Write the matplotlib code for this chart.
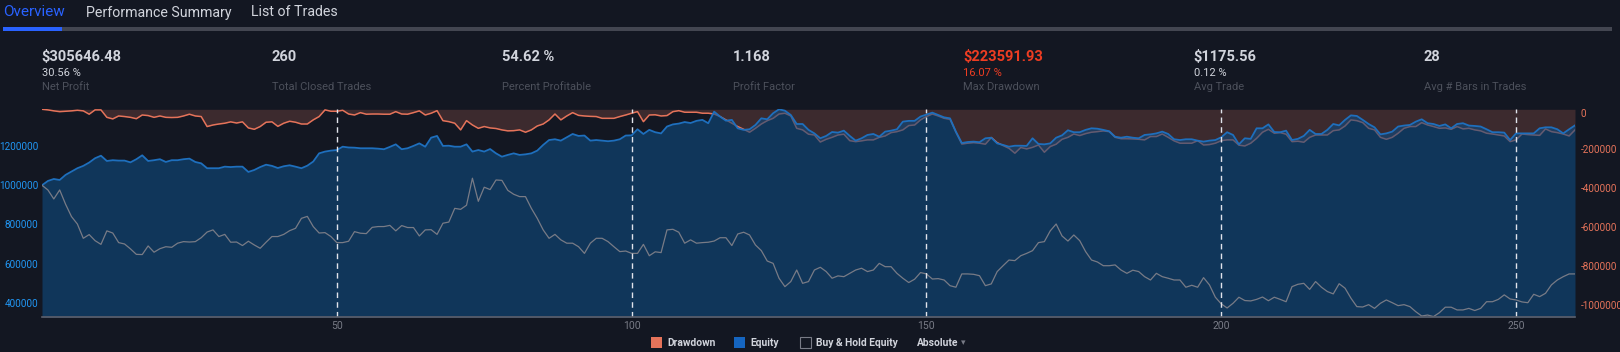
import numpy as np
import matplotlib
matplotlib.use("Agg")
import matplotlib.pyplot as plt
from matplotlib.patches import Rectangle

# one value per closed trade, in thousands of dollars
equity_k = [
    1000, 1022, 1032, 1027, 1053, 1070, 1087, 1099, 1116, 1138, 1151, 1124, 1128, 1126, 1126, 1117,
    1133, 1153, 1124, 1128, 1133, 1119, 1128, 1128, 1133, 1136, 1119, 1112, 1087, 1087, 1087, 1095,
    1093, 1095, 1095, 1068, 1078, 1093, 1105, 1099, 1088, 1097, 1102, 1095, 1087, 1100, 1121, 1163,
    1172, 1177, 1180, 1197, 1193, 1192, 1189, 1189, 1189, 1187, 1184, 1196, 1209, 1184, 1189, 1201,
    1214, 1197, 1243, 1252, 1201, 1202, 1197, 1197, 1209, 1172, 1180, 1172, 1185, 1163, 1146, 1155,
    1163, 1155, 1158, 1163, 1177, 1206, 1231, 1235, 1228, 1245, 1262, 1252, 1254, 1228, 1231, 1228,
    1225, 1228, 1235, 1254, 1255, 1286, 1262, 1283, 1271, 1265, 1300, 1311, 1315, 1323, 1318, 1329,
    1334, 1317, 1376, 1351, 1330, 1334, 1291, 1283, 1286, 1308, 1342, 1337, 1368, 1388, 1381, 1359,
    1313, 1313, 1283, 1265, 1240, 1252, 1272, 1269, 1279, 1252, 1228, 1240, 1257, 1262, 1248, 1274,
    1279, 1286, 1325, 1329, 1329, 1351, 1361, 1371, 1359, 1347, 1342, 1274, 1216, 1221, 1223, 1220,
    1240, 1243, 1214, 1206, 1197, 1202, 1202, 1201, 1240, 1211, 1209, 1214, 1243, 1255, 1281, 1271,
    1271, 1283, 1291, 1289, 1283, 1276, 1248, 1243, 1248, 1243, 1240, 1257, 1260, 1265, 1274, 1262,
    1235, 1231, 1235, 1235, 1228, 1223, 1228, 1231, 1245, 1271, 1257, 1209, 1240, 1237, 1291, 1291,
    1311, 1272, 1271, 1279, 1231, 1237, 1252, 1283, 1262, 1262, 1283, 1313, 1306, 1334, 1357, 1354,
    1334, 1313, 1296, 1260, 1265, 1274, 1300, 1305, 1308, 1325, 1337, 1317, 1313, 1303, 1311, 1291,
    1313, 1317, 1305, 1303, 1300, 1286, 1271, 1271, 1269, 1231, 1265, 1265, 1265, 1265, 1291, 1296,
    1296, 1286, 1265, 1286, 1306,
]
drawdown_k = [
    0, -3, -8, -12, -10, -8, -5, -8, -25, -3, -3, -41, -49, -34, -37, -41,
    -48, -29, -32, -41, -34, -41, -42, -41, -34, -25, -34, -37, -88, -80, -75, -71,
    -64, -70, -64, -95, -102, -88, -66, -64, -87, -71, -61, -66, -75, -75, -54, -37,
    -3, -10, -10, -5, -24, -29, -17, -25, -24, -24, -25, -25, -12, -24, -25, -17,
    -8, -29, -20, -7, -58, -63, -71, -105, -58, -80, -97, -88, -95, -98, -105, -110,
    -109, -105, -117, -105, -85, -75, -54, -24, -54, -34, -17, -31, -34, -36, -37, -46,
    -46, -46, -37, -29, -20, -12, -63, -29, -28, -34, -32, -12, -7, -15, -15, -15,
    -20, -20, -24, -37, -54, -71, -88, -102, -117, -97, -75, -58, -46, -24, -20, -34,
    -97, -105, -127, -131, -167, -153, -143, -131, -127, -160, -165, -161, -156, -156, -143, -136,
    -119, -114, -105, -83, -80, -54, -37, -24, -34, -46, -51, -117, -177, -173, -170, -173,
    -178, -144, -170, -185, -199, -224, -195, -202, -194, -182, -219, -190, -178, -153, -143, -126,
    -134, -124, -117, -114, -110, -114, -143, -150, -150, -151, -153, -156, -139, -139, -126, -143,
    -161, -173, -173, -173, -160, -182, -180, -173, -160, -156, -156, -183, -187, -173, -148, -117,
    -102, -122, -119, -127, -165, -163, -168, -143, -131, -131, -131, -109, -105, -85, -54, -58,
    -68, -97, -105, -143, -153, -143, -122, -97, -88, -88, -68, -80, -88, -97, -95, -102,
    -88, -100, -97, -105, -110, -122, -126, -131, -136, -165, -156, -126, -129, -131, -133, -100,
    -114, -119, -126, -136, -105,
]
buyhold_k = [
    1000, 976, 930, 976, 903, 840, 802, 729, 748, 717, 698, 767, 756, 707, 700, 675,
    647, 646, 690, 658, 676, 686, 683, 704, 712, 710, 712, 732, 761, 772, 738, 749,
    709, 710, 692, 714, 695, 678, 709, 738, 738, 749, 768, 780, 831, 841, 789, 756,
    758, 738, 707, 707, 714, 763, 755, 753, 785, 789, 789, 795, 767, 794, 784, 784,
    741, 772, 773, 749, 806, 812, 882, 877, 898, 1036, 918, 990, 978, 1027, 1025, 974,
    954, 942, 942, 882, 831, 772, 729, 749, 721, 704, 704, 686, 652, 704, 729, 729,
    712, 686, 661, 664, 652, 652, 698, 640, 660, 656, 772, 775, 760, 704, 721, 704,
    707, 709, 715, 732, 732, 692, 751, 760, 746, 695, 666, 613, 601, 525, 482, 508,
    567, 499, 508, 567, 581, 559, 525, 537, 533, 550, 567, 576, 559, 567, 601, 584,
    584, 550, 525, 503, 520, 554, 547, 521, 523, 516, 487, 479, 547, 547, 545, 538,
    487, 496, 559, 589, 618, 615, 640, 652, 666, 707, 712, 767, 802, 741, 715, 746,
    717, 661, 618, 608, 589, 589, 593, 567, 550, 566, 559, 533, 516, 550, 533, 525,
    516, 516, 479, 489, 479, 528, 491, 428, 394, 373, 397, 428, 411, 409, 417, 429,
    410, 428, 417, 405, 482, 494, 499, 468, 508, 479, 457, 445, 497, 474, 423, 380,
    378, 390, 371, 397, 414, 400, 385, 390, 380, 354, 332, 337, 329, 349, 377, 377,
    363, 363, 371, 360, 371, 405, 405, 417, 440, 419, 414, 404, 400, 443, 431, 448,
    491, 516, 533, 547, 547,
]

tab_names = ["Overview", "Performance Summary", "List of Trades"]
stat_values = ["$305646.48", "260", "54.62 %", "1.168", "$223591.93", "$1175.56", "28"]
stat_pcts = ["30.56 %", "", "", "", "16.07 %", "0.12 %", ""]
stat_labels = ["Net Profit", "Total Closed Trades", "Percent Profitable", "Profit Factor",
               "Max Drawdown", "Avg Trade", "Avg # Bars in Trades"]
legend_names = ["Drawdown", "Equity", "Buy & Hold Equity"]
x_ticks = [50, 100, 150, 200, 250]
eq_ticks = [400000, 600000, 800000, 1000000, 1200000]
dd_ticks = [-1000000, -800000, -600000, -400000, -200000, 0]

equity = np.array(equity_k) * 1000
drawdown = np.array(drawdown_k) * 1000
buyhold = np.array(buyhold_k) * 1000
trades = np.arange(len(equity))

BG = "#131722"
TXT = "#d1d4dc"
GREY = "#787b86"
DD_LINE = "#e5735a"
DD_FILL = "#3c2a2e"
EQ_LINE = "#1e6fbd"
EQ_FILL = "#0e4b80"
RED = "#ee3d22"

plt.rcParams["font.family"] = ["Roboto", "DejaVu Sans"]

W, H = 1620, 352
fig = plt.figure(figsize=(W / 100, H / 100), dpi=100, facecolor=BG)


def fx(x):
    return x / W


def fy(y):
    return 1 - y / H


# tabs
tab_x = [3, 86, 251]
tab_size = [11, 10.2, 10.2]
for i, name in enumerate(tab_names):
    fig.text(fx(tab_x[i]), fy(12.5), name, fontsize=tab_size[i], va="center",
             color="#2962ff" if i == 0 else TXT)
fig.add_artist(Rectangle((fx(3), fy(31)), fx(1612 - 3), 4 / H, transform=fig.transFigure,
                         facecolor="#434651", edgecolor="none"))
fig.add_artist(Rectangle((fx(3), fy(31)), fx(62 - 3), 4 / H, transform=fig.transFigure,
                         facecolor="#2962ff", edgecolor="none"))

# stats row
for i in range(len(stat_values)):
    x = fx(41.5 + i * 230.4)
    col = RED if i == 4 else TXT
    fig.text(x, fy(57), stat_values[i], fontsize=10.5, fontweight="bold", color=col, va="center")
    if stat_pcts[i]:
        fig.text(x, fy(73.5), stat_pcts[i], fontsize=8, color=col, va="center")
    fig.text(x, fy(87.5), stat_labels[i], fontsize=8, color="#4c505b", va="center")

# chart
top, bottom, left, right = 109.3, 317.3, 42, 1575
ax = fig.add_axes([fx(left), fy(bottom), fx(right - left), (bottom - top) / H])
ax.set_facecolor(BG)
ax.fill_between(trades, drawdown, 0, color=DD_FILL, lw=0)
ax.plot(trades, drawdown, color=DD_LINE, lw=1.1)
ax.set_xlim(0, 260)
ax.set_ylim(-1061000, 0)

ax2 = ax.twinx()
eq_bottom = 325400
ax2.fill_between(trades, equity, eq_bottom, color=EQ_FILL, alpha=0.6, lw=0)
ax2.plot(trades, equity, color=EQ_LINE, lw=1.3)
ax2.plot(trades, buyhold, color=GREY, lw=0.9)
for t in x_ticks:
    ax2.axvline(t, color="#e0e3eb", lw=1.0, ls=(0, (4, 3)))
ax2.set_ylim(eq_bottom, 1388100)

ax.yaxis.tick_right()
ax2.yaxis.tick_left()
ax.set_yticks(dd_ticks, [str(v) for v in dd_ticks])
ax2.set_yticks(eq_ticks, [str(v) for v in eq_ticks])
ax.set_xticks(x_ticks, [str(v) for v in x_ticks])
ax.tick_params(axis="y", length=0, pad=4, labelsize=7.2, labelcolor=DD_LINE)
ax2.tick_params(axis="y", length=0, pad=2.5, labelsize=7.2, labelcolor="#2196f3")
ax.tick_params(axis="x", length=0, pad=3, labelsize=7.5, labelcolor=GREY)
ax.yaxis.get_major_ticks()[-1].label2.set_va("top")

for a in (ax, ax2):
    for s in a.spines.values():
        s.set_visible(False)
ax2.spines["bottom"].set_visible(True)
ax2.spines["bottom"].set_color("#5d606b")
ax2.spines["bottom"].set_linewidth(1.2)

# legend
leg_x = [651, 734, 800]
leg_fc = [DD_LINE, "#1565c0", "none"]
for i, name in enumerate(legend_names):
    fig.add_artist(Rectangle((fx(leg_x[i]), fy(348)), 11 / W, 11 / H, transform=fig.transFigure,
                             facecolor=leg_fc[i], edgecolor=GREY if i == 2 else "none", lw=0.8))
    fig.text(fx(leg_x[i] + 16.5), fy(342.5), name, fontsize=7.4, fontweight="semibold",
             color=TXT, va="center")
fig.text(fx(917), fy(342.5), "Absolute", fontsize=7.4, fontweight="semibold", color=TXT, va="center")
fig.text(fx(961), fy(343), "\u25be", fontsize=6.5, color=GREY, va="center",
         family=["DejaVu Sans"])

fig.savefig("out.png", dpi=100, facecolor=BG)
